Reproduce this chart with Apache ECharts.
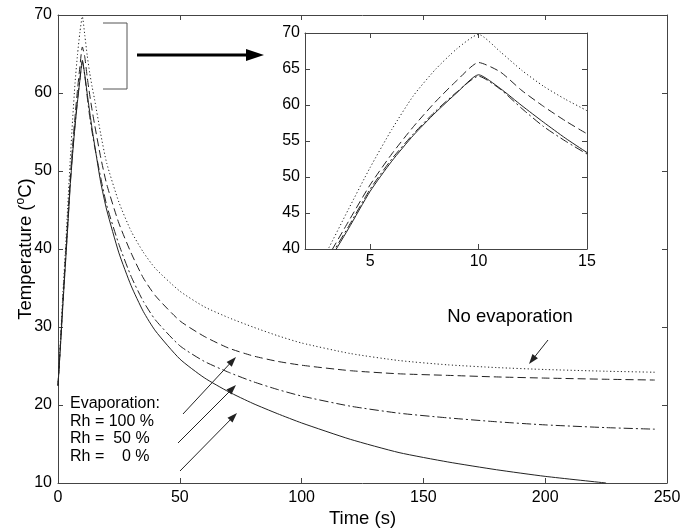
<!DOCTYPE html>
<html><head><meta charset="utf-8">
<script src="https://cdn.jsdelivr.net/npm/echarts@6/dist/echarts.min.js"></script>
<style>html,body{margin:0;padding:0;background:#fff}#c{width:690px;height:529px}</style>
</head><body><div id="c"></div>
<script>
// ---- data (time in s, temperature in °C) ----
const time = [0,1,2,3,4,5,6,7,8,9,10,11,12,13,14,15,17.5,20,25,30,35,40,50,60,70,80,90,100,120,140,160,180,200,225,245];
const noEvaporation = [22.5,28.3,34.3,39.6,45.5,51.3,56.6,61.3,64.9,67.8,69.8,67.4,64.8,62.6,60.8,59.2,54.8,51.0,46.0,42.3,39.6,37.5,34.6,32.6,31.2,30.0,28.9,27.95,26.6,25.7,25.15,24.8,24.55,24.33,24.2];
const rh100 = [22.5,27.8,33.4,38.6,43.8,48.9,53.2,57.0,60.4,63.4,65.9,64.6,62.0,59.8,57.8,56.0,51.8,48.3,43.3,39.5,36.3,34.0,30.8,28.8,27.3,26.3,25.6,25.1,24.4,24.0,23.8,23.6,23.45,23.3,23.2];
const rh50 = [22.5,27.6,33.0,38.1,43.1,48.3,52.5,56.0,59.1,61.8,64.0,62.2,59.5,57.0,55.0,53.2,49.2,45.6,40.6,36.5,33.3,30.9,27.6,25.6,24.2,23.0,22.0,21.15,19.85,18.95,18.35,17.85,17.45,17.1,16.9];
const rh0 = [22.5,27.5,32.8,37.8,42.8,48.0,52.2,55.8,58.9,61.7,64.2,62.3,59.9,57.6,55.4,53.4,48.6,45.0,39.5,35.3,32.0,29.5,25.9,23.5,21.7,20.2,18.9,17.7,15.6,13.9,12.7,11.7,10.85,10.0,null];

const mainXTicks = [0,50,100,150,200,250];
const mainYTicks = [10,20,30,40,50,60,70];
const insetXTicks = [5,10,15];
const insetYTicks = [40,45,50,55,60,65,70];

const seriesDefs = [
  {name:'No evaporation', values:noEvaporation, dash:[1.2,2.4]},
  {name:'Rh = 100 %', values:rh100, dash:[8,4]},
  {name:'Rh = 50 %', values:rh50, dash:[9,3,2,3]},
  {name:'Rh = 0 %', values:rh0, dash:'solid'}
];

function pairs(vals){ const out=[]; time.forEach((t,i)=>{ if(vals[i]!=null) out.push([t,vals[i]]); }); return out; }

const FONT = '"Liberation Sans", Arial, sans-serif';
const AX = '#444';
function axisCommon(showLabel, fs){
  return {
    axisLine:{show:true, onZero:false, lineStyle:{color:AX, width:1}},
    axisTick:{show:true, inside:true, length:5, lineStyle:{color:AX}},
    axisLabel:{show:showLabel, color:'#000', fontSize:fs, fontFamily:FONT, margin:7},
    splitLine:{show:false}
  };
}

const chart = echarts.init(document.getElementById('c'), null, {renderer:'canvas'});

const xAxis = [
  Object.assign(axisCommon(true,16), {gridIndex:0, type:'value', position:'bottom', min:0, max:250, interval:50,
    name:'Time (s)', nameLocation:'middle', nameGap:26, nameMoveOverlap:false,
    nameTextStyle:{fontSize:18.5, color:'#000', fontFamily:FONT}}),
  Object.assign(axisCommon(false,16), {gridIndex:0, type:'value', position:'top', min:0, max:250, interval:50}),
  Object.assign(axisCommon(true,16), {gridIndex:1, type:'value', position:'bottom', min:2, max:15}),
  Object.assign(axisCommon(false,16), {gridIndex:1, type:'value', position:'top', min:2, max:15})
];
xAxis[2].axisTick.customValues = insetXTicks; xAxis[2].axisLabel.customValues = insetXTicks; xAxis[2].axisLabel.margin = 5;
xAxis[3].axisTick.customValues = insetXTicks;

const yAxis = [
  Object.assign(axisCommon(true,16), {gridIndex:0, type:'value', position:'left', min:10, max:70, interval:10,
    name:'Temperature ({sup|o}C)', nameLocation:'middle', nameGap:22, nameMoveOverlap:false,
    nameTextStyle:{fontSize:18.5, color:'#000', fontFamily:FONT,
      rich:{sup:{fontSize:12, color:'#000', fontFamily:FONT, padding:[0,0,9,0]}}}}),
  Object.assign(axisCommon(false,16), {gridIndex:0, type:'value', position:'right', min:10, max:70, interval:10}),
  Object.assign(axisCommon(true,16), {gridIndex:1, type:'value', position:'left', min:40, max:70, interval:5}),
  Object.assign(axisCommon(false,16), {gridIndex:1, type:'value', position:'right', min:40, max:70, interval:5})
];
yAxis[0].axisLabel.margin = 6;
yAxis[2].axisLabel.margin = 5;

const series = [];
seriesDefs.forEach(d=>{
  [0,1].forEach(g=>{
    series.push({
      type:'line', name:d.name, xAxisIndex:g*2, yAxisIndex:g*2,
      data:pairs(d.values), showSymbol:false, symbol:'none', smooth:0.2, clip:true,
      lineStyle:{color:'#222', width:1, type:d.dash}, animation:false, z:3
    });
  });
});

function arrow(x1,y1,x2,y2,len,half,w,col){
  const dx=x2-x1, dy=y2-y1, L=Math.hypot(dx,dy), ux=dx/L, uy=dy/L, nx=-uy, ny=ux;
  const bx=x2-len*ux, by=y2-len*uy;
  return [
    {type:'line', shape:{x1:x1,y1:y1,x2:bx+ux*1,y2:by+uy*1}, style:{stroke:col, lineWidth:w}, z:10},
    {type:'polygon', shape:{points:[[x2,y2],[bx+half*nx,by+half*ny],[bx-half*nx,by-half*ny]]}, style:{fill:col}, z:10}
  ];
}
function txt(s,x,y,fs,align){
  return {type:'text', x:x, y:y, z:10, style:{text:s, font:fs+'px '+FONT, fill:'#000', textAlign:align||'left', textVerticalAlign:'middle'}};
}

const graphic = [].concat(
  [{type:'polyline', shape:{points:[[103,23],[127,23],[127,89],[103,89]]}, style:{stroke:'#555', lineWidth:1, fill:null}, z:10}],
  arrow(137,55,264,55,18,6,3,'#000'),
  arrow(548,340,529,364,10,3.5,1,'#222'),
  arrow(183,414,236,357,10,3.5,1,'#222'),
  arrow(178,443,236,385,10,3.5,1,'#222'),
  arrow(180,471,237,413,10,3.5,1,'#222'),
  [txt('No evaporation',510,317,18.5,'center'),
   txt('Evaporation:',70,404,16),
   txt('Rh = 100 %',70,422,16),
   txt('Rh =  50 %',70,439,16),
   txt('Rh =    0 %',70,457,16)]
);

chart.setOption({
  backgroundColor:'#fff',
  animation:false,
  grid:[
    {left:58, right:23, top:15, bottom:46, outerBoundsMode:'none', containLabel:false},
    {left:305, top:33, width:282, height:216, outerBoundsMode:'none', containLabel:false, show:true, backgroundColor:'#fff', borderWidth:0}
  ],
  xAxis:xAxis, yAxis:yAxis, series:series, graphic:graphic
});
</script></body></html>
